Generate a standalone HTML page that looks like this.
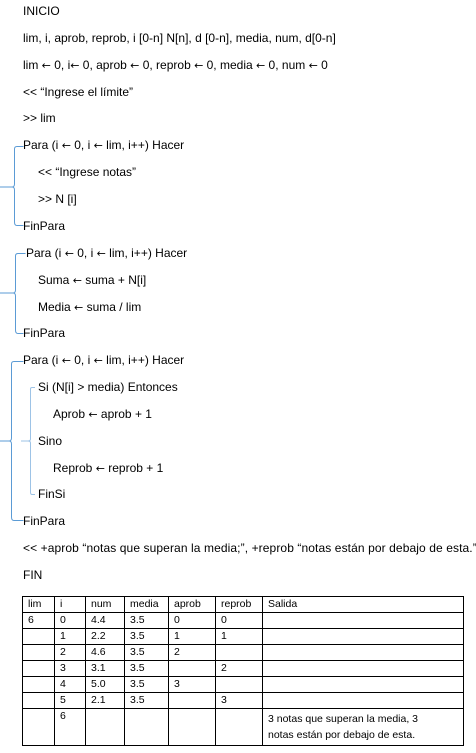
<!DOCTYPE html>
<html><head><meta charset="utf-8"><style>
body{margin:0;width:476px;height:753px;background:#fff;position:relative;font-family:"Liberation Sans",sans-serif;font-size:12px;color:#000;overflow:hidden}
.t{position:absolute;white-space:nowrap;line-height:13px}
.a{font-family:"DejaVu Sans",sans-serif;font-size:11px}
table{position:absolute;left:22px;top:596px;border-collapse:collapse;font-size:10.5px}
td{border:1px solid #000;padding:0 0 0 5px;height:15px;vertical-align:top;line-height:14px}
</style></head><body>
<svg width="476" height="753" style="position:absolute;left:0;top:0" fill="none" stroke="#5b9bd5" stroke-width="1">
<path d="M23.5 146.5 H17 Q14.5 146.5 14.5 149 V184 Q14.5 187 12 187 H0 M12 187 Q14.5 187 14.5 190 V222 Q14.5 225.5 17 225.5 H23.5"/>
<path d="M25.5 253.5 H18 Q15.5 253.5 15.5 256 V290 Q15.5 293 13 293 H0 M13 293 Q15.5 293 15.5 296 V330 Q15.5 333.5 18 333.5 H23.5"/>
<path d="M23.5 361.5 H14 Q11.5 361.5 11.5 364 V438 Q11.5 441 9 441 H0 M9 441 Q11.5 441 11.5 444 V517 Q11.5 520.5 14 520.5 H23.5"/>
<path d="M35 387.5 H32 Q30.5 387.5 30.5 389 V439 Q30.5 441 28 441 H21 M28 441 Q30.5 441 30.5 443 V492 Q30.5 494.5 32 494.5 H35" stroke="#9dc3e6"/>
</svg>
<div class="t" style="left:23px;top:5px">INICIO</div>
<div class="t" style="left:23px;top:32px">lim, i, aprob, reprob, i [0-n] N[n], d [0-n], media, num, d[0-n]</div>
<div class="t" style="left:23px;top:59px">lim <span class="a">←</span> 0, i<span class="a">←</span> 0, aprob <span class="a">←</span> 0, reprob <span class="a">←</span> 0, media <span class="a">←</span> 0, num <span class="a">←</span> 0</div>
<div class="t" style="left:23px;top:86px">&lt;&lt; “Ingrese el límite”</div>
<div class="t" style="left:23px;top:112px">&gt;&gt; lim</div>
<div class="t" style="left:23px;top:139px">Para (i <span class="a">←</span> 0, i <span class="a">←</span> lim, i++) Hacer</div>
<div class="t" style="left:38px;top:166px">&lt;&lt; “Ingrese notas”</div>
<div class="t" style="left:38px;top:193px">&gt;&gt; N [i]</div>
<div class="t" style="left:23px;top:220px">FinPara</div>
<div class="t" style="left:26px;top:247px">Para (i <span class="a">←</span> 0, i <span class="a">←</span> lim, i++) Hacer</div>
<div class="t" style="left:38px;top:274px">Suma <span class="a">←</span> suma + N[i]</div>
<div class="t" style="left:38px;top:301px">Media <span class="a">←</span> suma / lim</div>
<div class="t" style="left:23px;top:327px">FinPara</div>
<div class="t" style="left:23px;top:354px">Para (i <span class="a">←</span> 0, i <span class="a">←</span> lim, i++) Hacer</div>
<div class="t" style="left:38px;top:381px">Si (N[i] &gt; media) Entonces</div>
<div class="t" style="left:53px;top:408px">Aprob <span class="a">←</span> aprob + 1</div>
<div class="t" style="left:38px;top:435px">Sino</div>
<div class="t" style="left:53px;top:462px">Reprob <span class="a">←</span> reprob + 1</div>
<div class="t" style="left:38px;top:488px">FinSi</div>
<div class="t" style="left:23px;top:515px">FinPara</div>
<div class="t" style="left:23px;top:542px;letter-spacing:0.1px">&lt;&lt; +aprob “notas que superan la media;”, +reprob “notas están por debajo de esta.”</div>
<div class="t" style="left:23px;top:569px">FIN</div>
<table>
<tr><td style="width:26px">lim</td><td style="width:25px">i</td><td style="width:33px">num</td><td style="width:38px">media</td><td style="width:41px">aprob</td><td style="width:41px">reprob</td><td style="width:195px">Salida</td></tr>
<tr><td>6</td><td>0</td><td>4.4</td><td>3.5</td><td>0</td><td>0</td><td></td></tr>
<tr><td></td><td>1</td><td>2.2</td><td>3.5</td><td>1</td><td>1</td><td></td></tr>
<tr><td></td><td>2</td><td>4.6</td><td>3.5</td><td>2</td><td></td><td></td></tr>
<tr><td></td><td>3</td><td>3.1</td><td>3.5</td><td></td><td>2</td><td></td></tr>
<tr><td></td><td>4</td><td>5.0</td><td>3.5</td><td>3</td><td></td><td></td></tr>
<tr><td></td><td>5</td><td>2.1</td><td>3.5</td><td></td><td>3</td><td></td></tr>
<tr><td style="height:36px"></td><td>6</td><td></td><td></td><td></td><td></td><td style="line-height:16px;padding-top:2px">3 notas que superan la media, 3<br>notas están por debajo de esta.</td></tr>
</table>
</body></html>
